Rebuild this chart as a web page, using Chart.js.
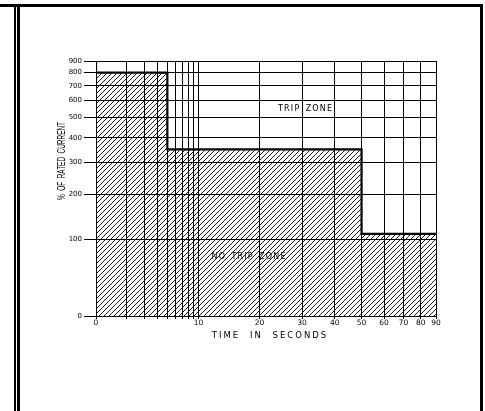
<!DOCTYPE html>
<html>
<head>
<meta charset="utf-8">
<script src="https://cdn.jsdelivr.net/npm/chart.js@4.4.0/dist/chart.umd.min.js"></script>
<style>
  html, body { margin: 0; padding: 0; background: #fff; }
  #wrap { position: relative; width: 485px; height: 411px; overflow: hidden; }
  #chart { position: absolute; left: 0; top: 0; }
  .rule { position: absolute; background: #000; }
</style>
</head>
<body>
<div id="wrap">
  <canvas id="chart" width="485" height="411"></canvas>
  <div class="rule" style="left:0;top:4px;width:483px;height:3px"></div>
  <div class="rule" style="left:14px;top:4px;width:2px;height:407px"></div>
  <div class="rule" style="left:17px;top:4px;width:3px;height:407px"></div>
  <div class="rule" style="left:480px;top:4px;width:3px;height:407px"></div>
</div>
<script>
// trip curve (seconds, % of rated current)
const tripTime = [0, 0, 4.4, 4.4, 50, 50, 90];
const tripCurrent = [900, 800, 800, 350, 350, 110, 110];

// axis ticks
const timeLabels = [0, 10, 20, 30, 40, 50, 60, 70, 80, 90];
const decadeLines = [2, 3, 4, 5, 6, 7, 8, 9]; // log paper lines in first decade
const currentLabels = [0, 100, 200, 300, 400, 500, 600, 700, 800, 900];

// zone captions
const zoneText = ["TRIP ZONE", "NO TRIP ZONE"];
const zoneTime = [31, 18];
const zoneCurrent = [550, 70];

const xTitle = "TIME IN SECONDS";
const yTitle = "% OF RATED CURRENT";

// scales of the drawing sheet: log-ish paper
class WarpScale extends Chart.LinearScale {
  warp(v) { return v; }
  getPixelForValue(value) {
    const lo = this.warp(this.min), hi = this.warp(this.max);
    return this.getPixelForDecimal((this.warp(value) - lo) / (hi - lo));
  }
  getValueForPixel(pixel) {
    const d = this.getDecimalForPixel(pixel);
    const lo = this.warp(this.min), hi = this.warp(this.max);
    let a = this.min, b = this.max;
    for (let i = 0; i < 40; i++) {
      const m = (a + b) / 2;
      if ((this.warp(m) - lo) / (hi - lo) < d) a = m; else b = m;
    }
    return (a + b) / 2;
  }
}
class TimeScale extends WarpScale {
  static id = "tripTime";
  warp(t) {
    return t <= 10 ? Math.log10(1 + 0.9 * t) : 1 + 1.402 * Math.log((t + 9) / 19);
  }
}
class CurrentScale extends WarpScale {
  static id = "tripCurrent";
  warp(v) { return Math.log(1 + v / 100); }
}
Chart.register(TimeScale, CurrentScale);

function makeHatch(size) {
  const c = document.createElement("canvas");
  c.width = size; c.height = size;
  const g = c.getContext("2d");
  g.strokeStyle = "#000";
  g.lineWidth = 0.9;
  g.beginPath();
  for (let k = -1; k <= 1; k++) {
    g.moveTo(k * size - 1, size + 1);
    g.lineTo(k * size + size + 1, -1);
  }
  g.stroke();
  return g.createPattern(c, "repeat");
}

const paperText = {
  id: "paperText",
  afterDatasetsDraw(chart) {
    const { ctx, scales: { x, y } } = chart;
    ctx.save();
    ctx.fillStyle = "#000";
    ctx.textAlign = "center";
    ctx.textBaseline = "middle";
    ctx.font = '8px "DejaVu Sans"';
    ctx.letterSpacing = "1.2px";
    ctx.wordSpacing = "1.5px";
    zoneText.forEach((t, i) => {
      ctx.fillText(t, x.getPixelForValue(zoneTime[i]), y.getPixelForValue(zoneCurrent[i]));
    });

    ctx.font = '8.5px "DejaVu Sans"';
    ctx.letterSpacing = "2px";
    ctx.wordSpacing = "5px";
    ctx.fillText(xTitle, (x.left + x.right) / 2 + 4, 336);

    ctx.letterSpacing = "0px";
    ctx.wordSpacing = "3px";
    ctx.font = '11px "Liberation Sans"';
    const w = ctx.measureText(yTitle).width;
    ctx.translate(62, 161);
    ctx.rotate(-Math.PI / 2);
    ctx.scale(78 / w, 1);
    ctx.fillText(yTitle, 0, 0);
    ctx.restore();
  }
};

Chart.defaults.font.family = "DejaVu Sans";
Chart.defaults.color = "#000";

const xGrid = timeLabels.concat(decadeLines.map(n => (n - 1) / 0.9)).sort((a, b) => a - b);

new Chart(document.getElementById("chart"), {
  type: "line",
  data: {
    datasets: [{
      data: tripTime.map((t, i) => ({ x: t, y: tripCurrent[i] })),
      borderColor: "#000",
      borderWidth: 2.2,
      backgroundColor: makeHatch(5),
      fill: "origin",
      pointRadius: 0,
      tension: 0
    }]
  },
  options: {
    responsive: false,
    animation: false,
    events: [],
    layout: { padding: { top: 61, right: 49, bottom: 69, left: 0 } },
    plugins: { legend: { display: false }, tooltip: { enabled: false } },
    scales: {
      x: {
        type: "tripTime",
        min: 0,
        max: 90,
        afterBuildTicks: s => { s.ticks = xGrid.map(v => ({ value: v })); },
        afterFit: s => { s.height = 26; },
        ticks: {
          autoSkip: false,
          maxRotation: 0,
          padding: 0,
          font: { size: 7.5 },
          callback: v => timeLabels.includes(v) ? String(v) : ""
        },
        grid: { color: "#000", lineWidth: 1, tickLength: 3 },
        border: { color: "#000", width: 1 }
      },
      y: {
        type: "tripCurrent",
        min: 0,
        max: 900,
        afterBuildTicks: s => { s.ticks = currentLabels.map(v => ({ value: v })); },
        afterFit: s => { s.width = 96; },
        ticks: { autoSkip: false, padding: 2, font: { size: 7 }, callback: v => String(v) },
        grid: { color: "#000", lineWidth: 1, tickLength: 12 },
        border: { color: "#000", width: 1 }
      }
    }
  },
  plugins: [paperText]
});
</script>
</body>
</html>
